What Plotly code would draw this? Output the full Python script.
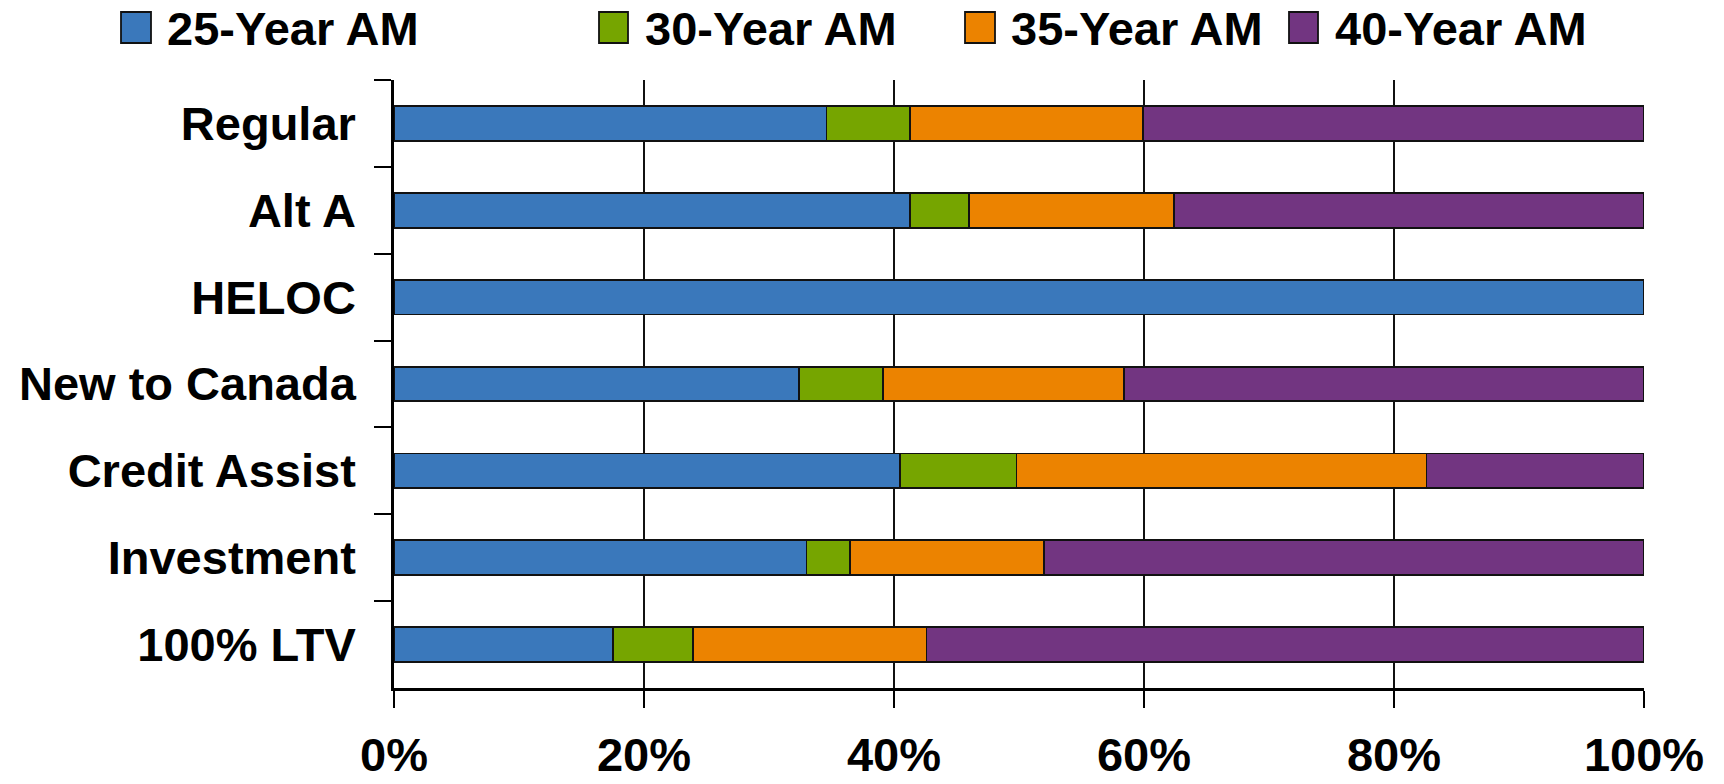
import plotly.graph_objects as go

# Share of each mortgage program by amortization period (percent of program)
categories = ["Regular", "Alt A", "HELOC", "New to Canada",
              "Credit Assist", "Investment", "100% LTV"]
am25 = [34.6, 41.3, 100.0, 32.4, 40.5, 33.0, 17.5]
am30 = [6.7, 4.7, 0.0, 6.7, 9.3, 3.5, 6.4]
am35 = [18.6, 16.4, 0.0, 19.3, 32.8, 15.5, 18.7]
am40 = [40.1, 37.6, 0.0, 41.6, 17.4, 48.0, 57.4]

series_names = ["25-Year AM", "30-Year AM", "35-Year AM", "40-Year AM"]
series_values = [am25, am30, am35, am40]
series_colors = ["#3A78BB", "#76A500", "#EC8300", "#723581"]

x_ticks = [0, 20, 40, 60, 80, 100]
x_tick_labels = ["0%", "20%", "40%", "60%", "80%", "100%"]

W, H = 1724, 784
ML, MR, MT, MB = 394, 80, 80, 96
PW, PH = W - ML - MR, H - MT - MB

FONT = "Liberation Sans, Arial, Helvetica, sans-serif"


def px_x(p):
    return (p - ML) / PW


def px_y(p):
    return (H - MB - p) / PH


fig = go.Figure()
for name, vals, col in zip(series_names, series_values, series_colors):
    fig.add_trace(go.Bar(
        y=categories, x=vals, name=name, orientation="h",
        marker=dict(color=col, line=dict(color="#111111", width=1.8)),
        showlegend=False,
    ))

# Legend row across the top: swatch + label per series
legend_swatch_x = [(121, 151), (599, 628), (965, 995), (1289, 1318)]
legend_text_x = [165, 643, 1009, 1333]
for (x0, x1), tx, name, col in zip(legend_swatch_x, legend_text_x,
                                    series_names, series_colors):
    fig.add_shape(type="rect", xref="paper", yref="paper",
                  x0=px_x(x0), x1=px_x(x1), y0=px_y(43), y1=px_y(12),
                  fillcolor=col, line=dict(color="#111111", width=1.8))
    fig.add_annotation(xref="paper", yref="paper", x=px_x(tx), y=px_y(28),
                       xanchor="left", yanchor="middle", showarrow=False,
                       text=name, font=dict(family=FONT, size=47,
                                            color="black", weight="bold"))

fig.update_layout(
    width=W, height=H,
    margin=dict(l=ML, r=MR, t=MT, b=MB, pad=0),
    barmode="stack", bargap=0.6,
    plot_bgcolor="white", paper_bgcolor="white",
    font=dict(family=FONT, size=47, color="black", weight="bold"),
    showlegend=False,
)
fig.update_xaxes(
    range=[0, 100], tickvals=x_ticks, ticktext=x_tick_labels,
    showgrid=True, gridcolor="#111111", gridwidth=1.5,
    showline=True, linecolor="black", linewidth=2.5,
    ticks="outside", ticklen=17, tickwidth=1.5, tickcolor="black",
    ticklabelstandoff=7, zeroline=False, automargin=False,
    tickfont=dict(family=FONT, size=47, color="black", weight="bold"),
)
fig.update_yaxes(
    type="category", categoryorder="array", categoryarray=categories,
    autorange="reversed", tickson="boundaries",
    showgrid=False, showline=True, linecolor="black", linewidth=2.5,
    ticks="outside", ticklen=17, tickwidth=2, tickcolor="black",
    ticklabelstandoff=26, automargin=False,
    tickfont=dict(family=FONT, size=47, color="black", weight="bold"),
)

fig.write_html("out.html")
